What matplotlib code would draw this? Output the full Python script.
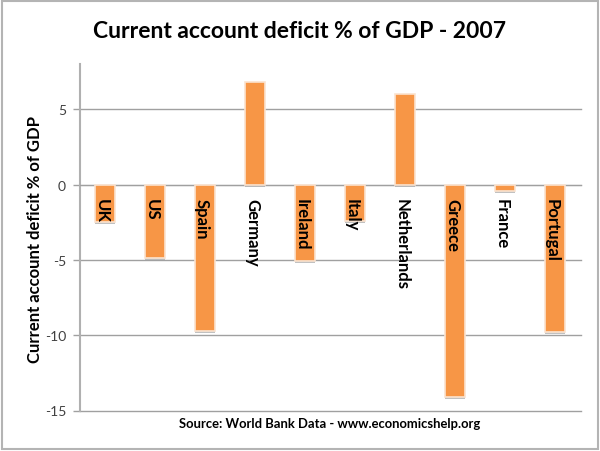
import matplotlib
matplotlib.use("Agg")
import matplotlib.pyplot as plt
import matplotlib.patheffects as pe
from matplotlib.patches import Rectangle
from matplotlib.transforms import ScaledTranslation

countries = ["UK", "US", "Spain", "Germany", "Ireland", "Italy", "Netherlands", "Greece", "France", "Portugal"]
deficit = [-2.5, -4.9, -9.7, 6.8, -5.1, -2.4, 6.0, -14.1, -0.4, -9.8]
y_ticks = [-15, -10, -5, 0, 5]

plt.rcParams['font.family'] = ['Lato', 'DejaVu Sans']
plt.rcParams['axes.unicode_minus'] = False

W, H = 600, 452
fig = plt.figure(figsize=(W / 100, H / 100), dpi=100)
ax = fig.add_axes([80 / W, 1 - 411.5 / H, 501 / W, 346.5 / H])

# grey frame around the whole picture
fig.add_artist(Rectangle((1.5 / W, 2 / H), 596.5 / W, 448.5 / H, transform=fig.transFigure,
                         fill=False, edgecolor="#b4b4b4", linewidth=1.5))

# moving the spine resets the ticks, so it has to come first
ax.spines["bottom"].set_position(("data", 0))

ax.set_xlim(-0.5, 9.52)
ax.set_ylim(-15, 8)
ax.set_yticks(y_ticks)
ax.grid(axis="y", color="#a0a0a0", linewidth=1, zorder=1)
ax.set_axisbelow(True)
for line in ax.get_ygridlines():
    line.set_clip_on(False)

bars = ax.bar(range(len(countries)), deficit, width=0.41, color="#f79646",
              edgecolor="#fbe3cf", linewidth=1.2, zorder=3)
for b in bars:
    b.set_path_effects([pe.SimplePatchShadow(offset=(0, -1.5), shadow_rgbFace="#999999", alpha=0.6), pe.Normal()])

ax.set_xticks(range(len(countries)))
ax.set_xticklabels(countries, rotation=270, fontsize=12, fontweight="bold", color="black")
ax.tick_params(axis="x", length=0, pad=9.5)
ax.tick_params(axis="y", length=5, width=1, color="#a0a0a0", labelsize=10, labelcolor="#404040", pad=5)
ax.xaxis.set_zorder(5)

# labels sit a little left of the bar centres
shift = ScaledTranslation(-3 / 100, 0, fig.dpi_scale_trans)
for label in ax.get_xticklabels():
    label.set_transform(label.get_transform() + shift)

ax.spines["top"].set_visible(False)
ax.spines["right"].set_visible(False)
ax.spines["bottom"].set_color("#a0a0a0")
ax.spines["left"].set_color("#b0b0b0")
ax.spines["left"].set_linewidth(1.5)

ax.set_ylabel("Current account deficit % of GDP", fontsize=12, fontweight="bold", labelpad=0)
ax.yaxis.set_label_coords(-37 / 501, 0.496)

fig.text(299.5 / W, 1 - 32 / H, "Current account deficit % of GDP - 2007", ha="center", va="center",
         fontsize=16.5, fontweight="bold", color="black")
fig.text(330 / W, 1 - 424 / H, "Source: World Bank Data - www.economicshelp.org", ha="center", va="center",
         fontsize=9.4, fontweight="bold", color="black")

fig.savefig("out.png", dpi=100)
